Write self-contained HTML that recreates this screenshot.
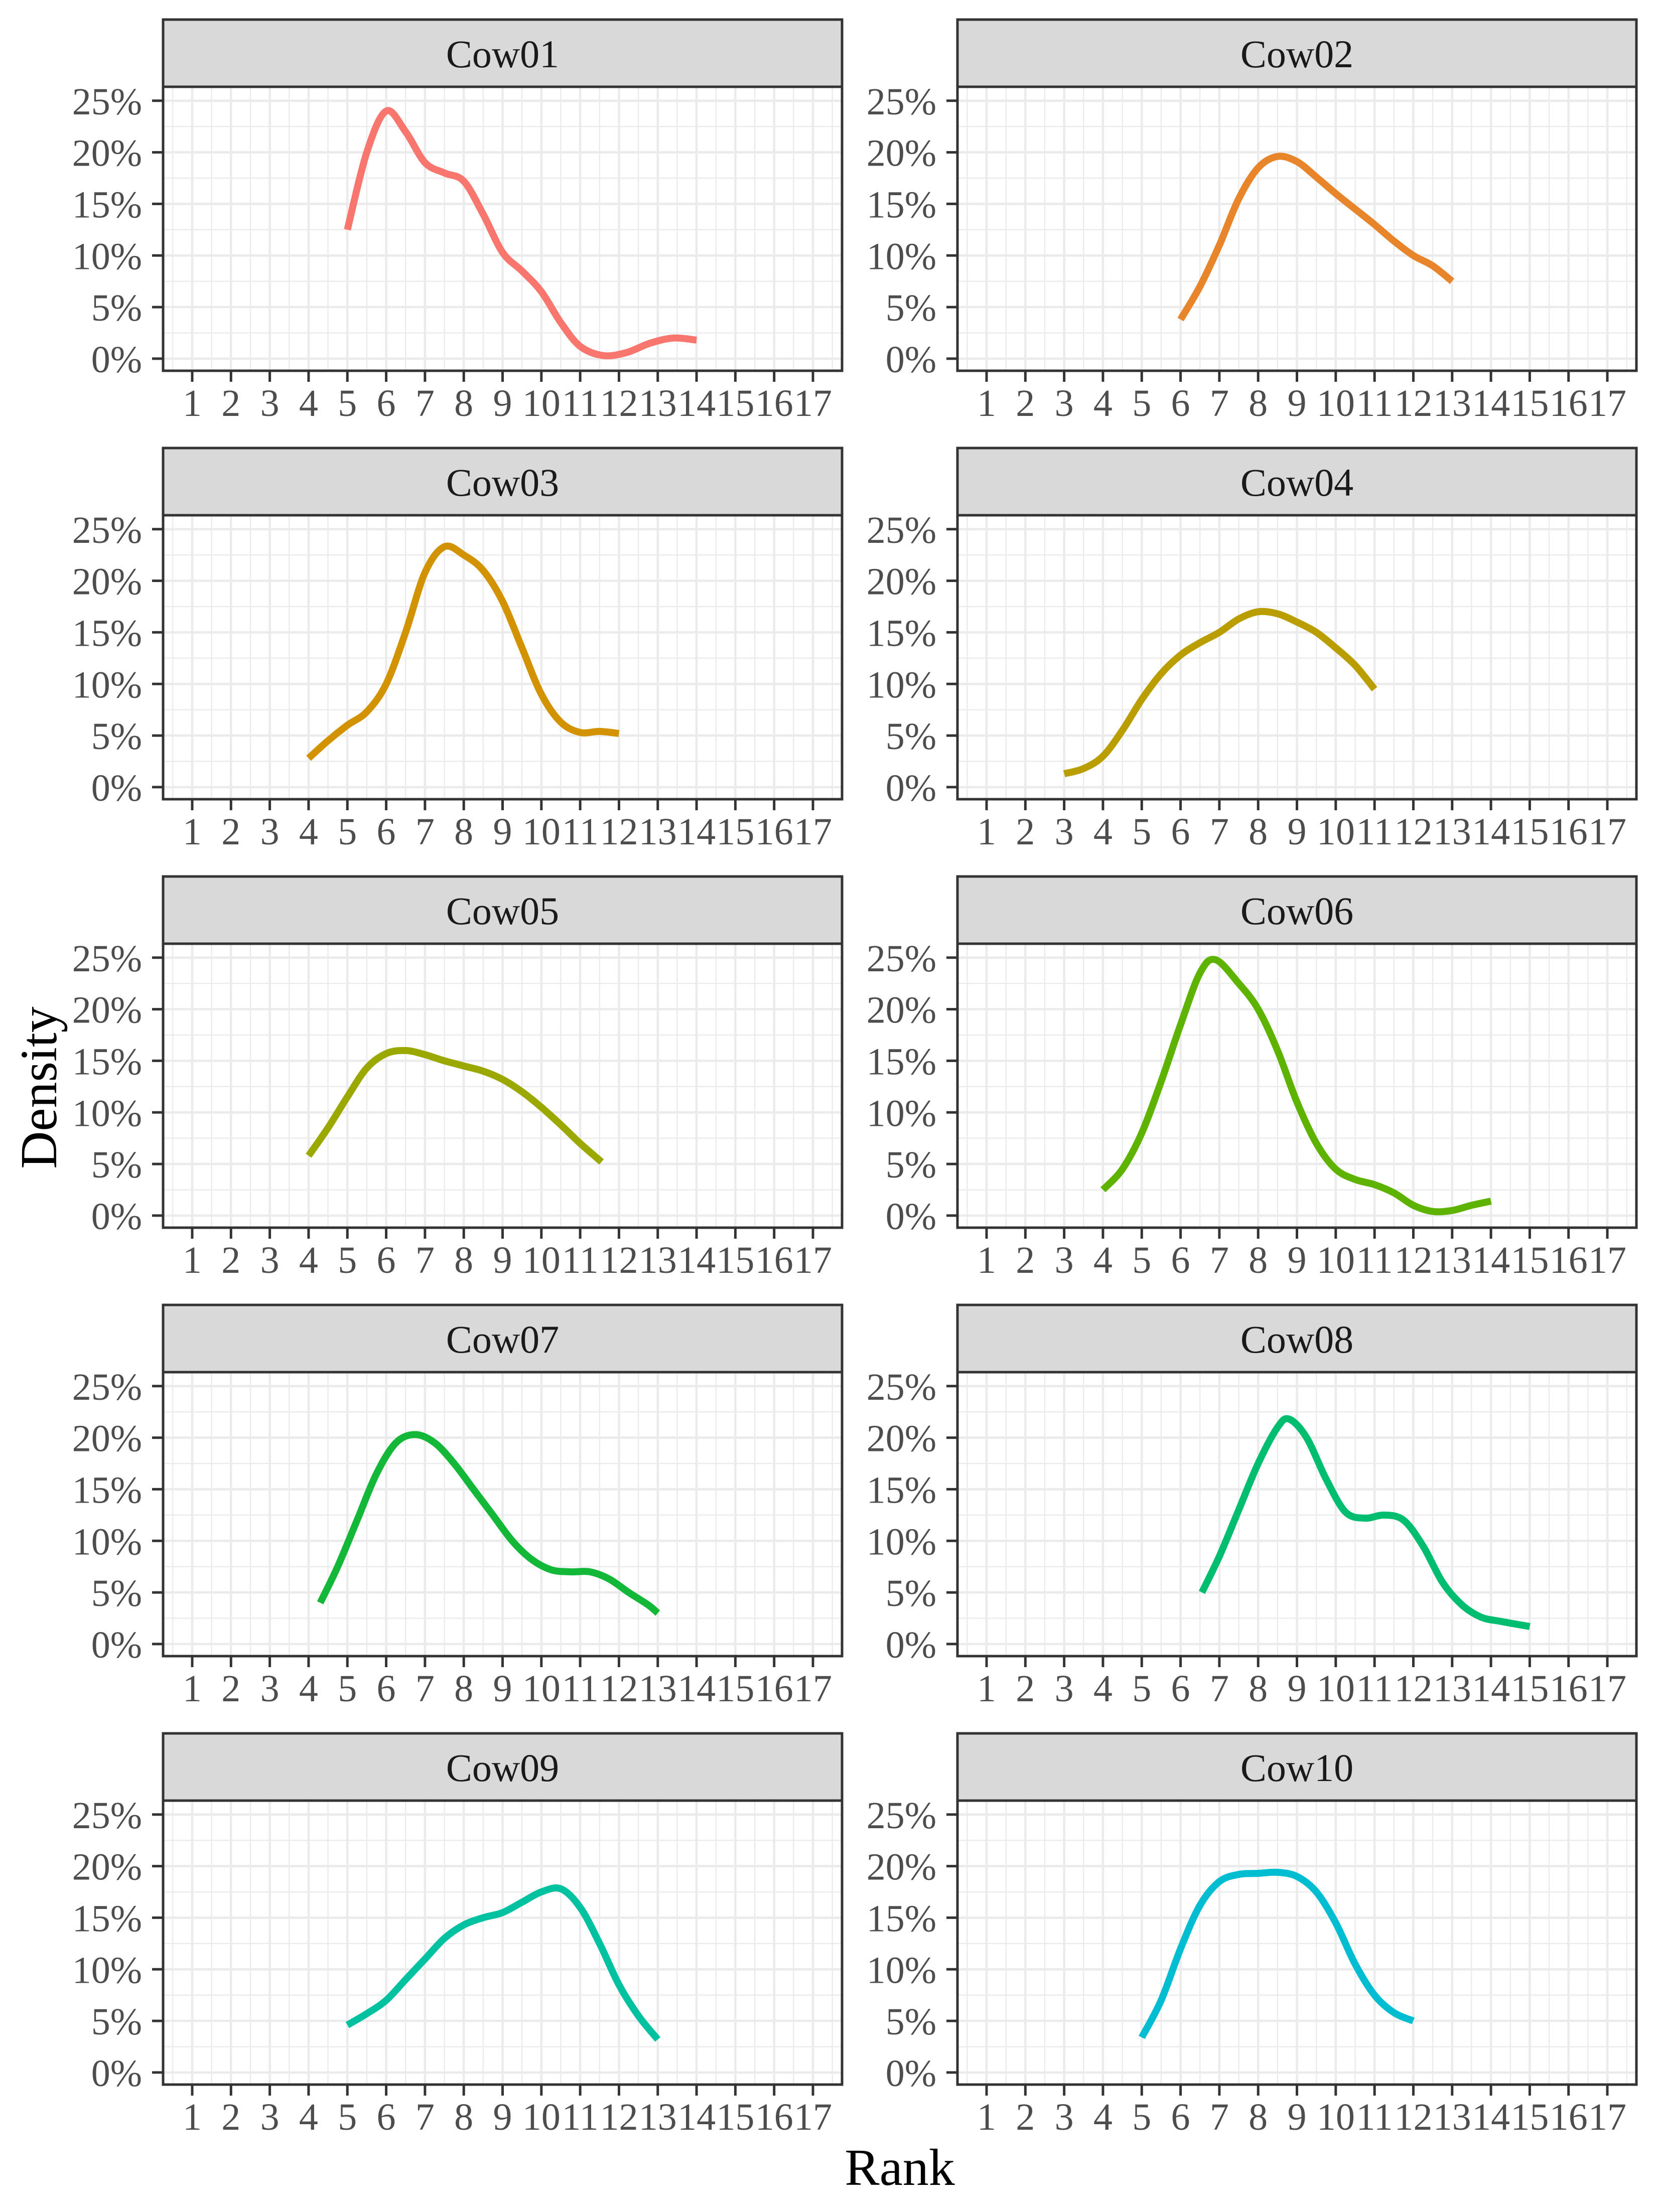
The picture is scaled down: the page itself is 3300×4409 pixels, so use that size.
<!DOCTYPE html>
<html><head><meta charset="utf-8">
<style>
html,body{margin:0;padding:0;background:#fff;}
svg{display:block;}
text{font-family:"Liberation Serif","DejaVu Serif",serif;}
</style></head>
<body>
<svg id="chart" width="3300" height="4409" viewBox="0 0 3300 4409" xmlns="http://www.w3.org/2000/svg">
<rect x="0" y="0" width="3300" height="4409" fill="#fff"/>
<g id="panels"></g>
<text x="0" y="0" transform="translate(112,2168) rotate(-90)" text-anchor="middle" font-size="104" fill="#000">Density</text>
<text x="1793" y="4355" text-anchor="middle" font-size="104" fill="#000">Rank</text>
</svg>
<script>
const cowNames = ["Cow01","Cow02","Cow03","Cow04","Cow05","Cow06","Cow07","Cow08","Cow09","Cow10"];
const cowColors = ["#F8766D","#E8852B","#D39200","#BA9E00","#9AA800","#5EB300","#13B838","#00BD6F","#00C1A0","#00BDD2"];
const xTicks = [1,2,3,4,5,6,7,8,9,10,11,12,13,14,15,16,17];
const yTicks = [0,5,10,15,20,25];
const yTickLabels = ["0%","5%","10%","15%","20%","25%"];

const cow01Rank = [5,5.5,6,6.5,7,7.5,8,8.5,9,9.5,10,10.5,11,11.6,12.2,12.8,13.4,14];
const cow01Density = [12.5,20,24,22,19,18,17.2,14,10.3,8.5,6.5,3.5,1.2,0.3,0.6,1.5,2,1.8];
const cow02Rank = [6,6.5,7,7.5,8,8.5,9,9.5,10,10.5,11,11.5,12,12.5,13];
const cow02Density = [3.8,7,11,15.5,18.5,19.6,19.1,17.6,16,14.5,13,11.4,10,9,7.5];
const cow03Rank = [4,4.5,5,5.5,6,6.5,7,7.5,8,8.5,9,9.5,10,10.5,11,11.5,12];
const cow03Density = [2.8,4.5,6,7.3,10,15,20.8,23.3,22.5,21,18,13.5,9,6.3,5.3,5.4,5.2];
const cow04Rank = [3,3.5,4,4.5,5,5.5,6,6.5,7,7.5,8,8.5,9,9.5,10,10.5,11];
const cow04Density = [1.3,1.8,3,5.5,8.5,11,12.8,14,15,16.3,17,16.8,16,15,13.5,11.8,9.5];
const cow05Rank = [4,4.5,5,5.5,6,6.5,7,7.5,8,8.5,9,9.5,10,10.5,11,11.55];
const cow05Density = [5.8,8.5,11.5,14.3,15.7,16,15.6,15,14.5,14,13.2,12,10.5,8.8,7,5.2];
const cow06Rank = [4,4.5,5,5.5,6,6.5,6.9,7.5,8,8.5,9,9.5,10,10.5,11,11.5,12,12.5,13,13.5,14];
const cow06Density = [2.5,4.5,8,13,18.5,23.5,24.8,22.5,20,16,11,7,4.5,3.5,3,2.2,1,0.4,0.5,1,1.4];
const cow07Rank = [4.3,4.75,5.25,5.75,6.25,6.75,7.25,7.75,8.25,8.75,9.25,9.75,10.25,10.75,11.25,11.75,12.25,12.75,13];
const cow07Density = [4,7.5,12,16.5,19.5,20.3,19.5,17.5,15,12.5,10,8.2,7.2,7,7,6.3,5,3.8,3];
const cow08Rank = [6.55,7,7.5,8,8.5,8.8,9.25,9.75,10.25,10.75,11.25,11.75,12.25,12.75,13.25,13.75,14.25,15];
const cow08Density = [5,8.5,13,17.5,21,21.8,20,16,12.8,12.2,12.5,12,9.5,6,3.8,2.6,2.2,1.7];
const cow09Rank = [5,5.5,6,6.5,7,7.5,8,8.5,9,9.5,10,10.5,11,11.5,12,12.5,13];
const cow09Density = [4.6,5.7,7,9,11,13,14.3,15,15.5,16.5,17.5,17.8,16,12.5,8.5,5.5,3.2];
const cow10Rank = [5,5.5,6,6.5,7,7.5,8,8.5,9,9.5,10,10.5,11,11.5,12];
const cow10Density = [3.4,7,12,16.2,18.5,19.2,19.3,19.4,19,17.5,14.5,10.5,7.5,5.8,5];

const cowRanks = [cow01Rank,cow02Rank,cow03Rank,cow04Rank,cow05Rank,cow06Rank,cow07Rank,cow08Rank,cow09Rank,cow10Rank];
const cowDensities = [cow01Density,cow02Density,cow03Density,cow04Density,cow05Density,cow06Density,cow07Density,cow08Density,cow09Density,cow10Density];

const NS = "http://www.w3.org/2000/svg";
const colLeft = [325, 1908];
const panelW = 1353;
const rowTop0 = 39, rowPitch = 854;
const stripH = 134, panelH = 566;
const xMin = 0.25, xMax = 17.75, yMin = -1.17, yMax = 26.35;

function mk(tag, attrs, parent){
  const el = document.createElementNS(NS, tag);
  for (const k in attrs) el.setAttribute(k, attrs[k]);
  parent.appendChild(el);
  return el;
}
function catmull(pts){
  let d = "M" + pts[0][0].toFixed(1) + "," + pts[0][1].toFixed(1);
  for (let i = 0; i < pts.length - 1; i++){
    const p0 = pts[i-1] || pts[i], p1 = pts[i], p2 = pts[i+1], p3 = pts[i+2] || p2;
    const c1x = p1[0] + (p2[0]-p0[0])/6, c1y = p1[1] + (p2[1]-p0[1])/6;
    const c2x = p2[0] - (p3[0]-p1[0])/6, c2y = p2[1] - (p3[1]-p1[1])/6;
    d += " C" + c1x.toFixed(1)+","+c1y.toFixed(1)+" "+c2x.toFixed(1)+","+c2y.toFixed(1)+" "+p2[0].toFixed(1)+","+p2[1].toFixed(1);
  }
  return d;
}

const root = document.getElementById("panels");
cowNames.forEach((name, i) => {
  const col = i % 2, row = Math.floor(i / 2);
  const L = colLeft[col], T = rowTop0 + row * rowPitch + stripH, B = T + panelH, R = L + panelW;
  const sx = v => L + (v - xMin) / (xMax - xMin) * panelW;
  const sy = v => B - (v - yMin) / (yMax - yMin) * panelH;
  const g = mk("g", {}, root);
  
  
  mk("rect", {x:L, y:T, width:panelW, height:panelH, fill:"#fff"}, g);
  const grid = mk("g", {}, g);
  
  
  for (let k = 0; k <= xTicks.length; k++){
    const v = (k === 0 ? xTicks[0] - 0.5 : xTicks[k-1] + 0.5);
    mk("line", {x1:sx(v), x2:sx(v), y1:T, y2:B, stroke:"#EBEBEB", "stroke-width":2.4}, grid);
  }
  for (let k = 0; k < yTicks.length - 1; k++){
    const v = (yTicks[k] + yTicks[k+1]) / 2;
    mk("line", {x1:L, x2:R, y1:sy(v), y2:sy(v), stroke:"#EBEBEB", "stroke-width":2.4}, grid);
  }
  xTicks.forEach(v => mk("line", {x1:sx(v), x2:sx(v), y1:T, y2:B, stroke:"#EBEBEB", "stroke-width":4.6}, grid));
  yTicks.forEach(v => mk("line", {x1:L, x2:R, y1:sy(v), y2:sy(v), stroke:"#EBEBEB", "stroke-width":4.6}, grid));
  const pts = cowRanks[i].map((x, j) => [sx(x), sy(cowDensities[i][j])]);
  const path = mk("path", {d:catmull(pts), fill:"none", stroke:cowColors[i], "stroke-width":14, "stroke-linejoin":"round"}, g);
  
  
  mk("rect", {x:L, y:T, width:panelW, height:panelH, fill:"none", stroke:"#333", "stroke-width":5}, g);
  const strip = mk("g", {}, g);
  
  
  mk("rect", {x:L, y:T - stripH, width:panelW, height:stripH, fill:"#D9D9D9", stroke:"#333", "stroke-width":5}, strip);
  const st = mk("text", {x:L + panelW/2, y:T - stripH/2 + 28, "text-anchor":"middle", "font-size":78, fill:"#1A1A1A"}, strip);
  st.textContent = name;
  const ya = mk("g", {}, g);
  
  
  yTicks.forEach((v, k) => {
    mk("line", {x1:L - 22, x2:L, y1:sy(v), y2:sy(v), stroke:"#333", "stroke-width":5}, ya);
    const t = mk("text", {x:L - 42, y:sy(v) + 27, "text-anchor":"end", "font-size":76, fill:"#4D4D4D"}, ya);
    t.textContent = yTickLabels[k];
  });
  const xa = mk("g", {}, g);
  
  
  xTicks.forEach(v => {
    mk("line", {x1:sx(v), x2:sx(v), y1:B, y2:B + 22, stroke:"#333", "stroke-width":5}, xa);
    const t = mk("text", {x:sx(v), y:B + 90, "text-anchor":"middle", "font-size":76, fill:"#4D4D4D"}, xa);
    t.textContent = String(v);
  });
});
</script>
</body></html>
